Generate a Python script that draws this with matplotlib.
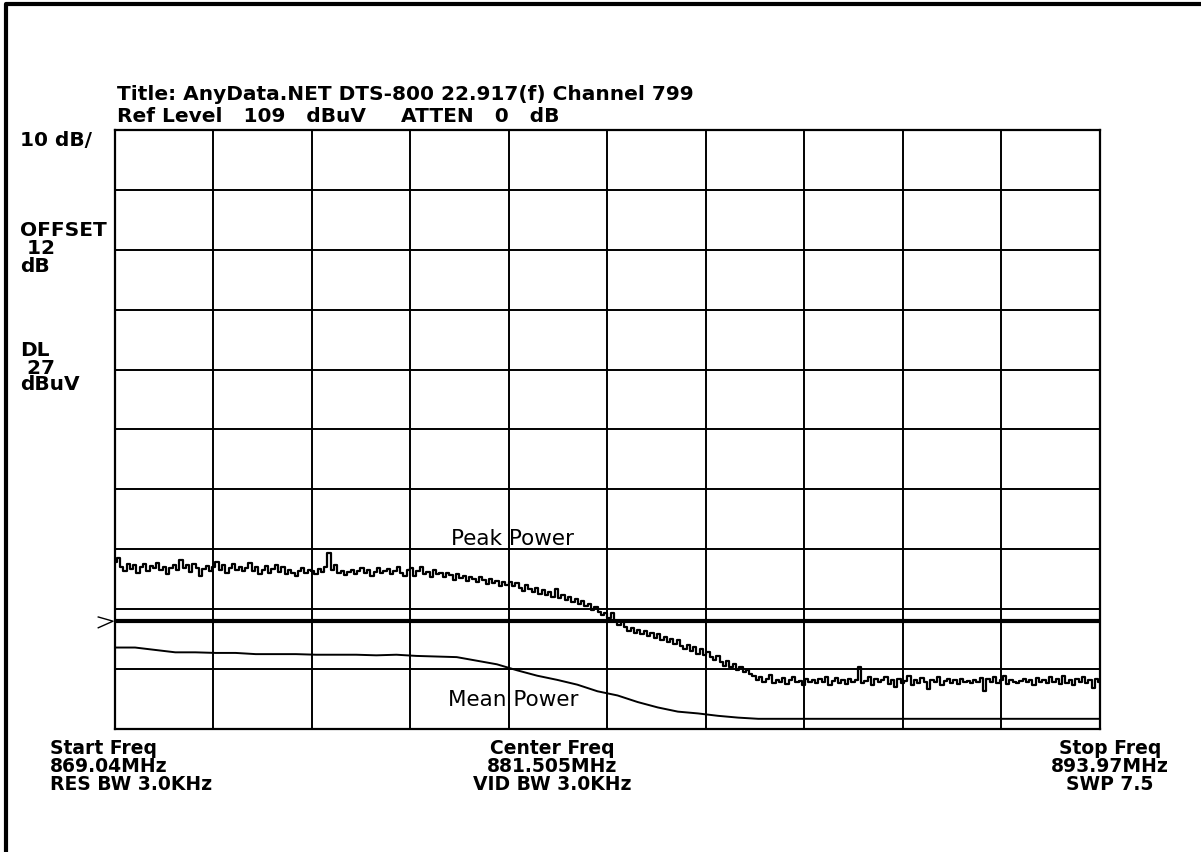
import numpy as np
from matplotlib import pyplot as plt
from matplotlib.lines import Line2D

# sweep settings
start_freq = 869.04
stop_freq = 893.97
center_freq = 881.505
ref_level = 109
db_per_div = 10
display_line = 27

# peak power trace, dBuV (300 points across the sweep)
peak_db = [
    36.9, 37.6, 36.0, 35.4, 36.5, 35.7, 36.3, 35.1, 36.0, 36.6,
    35.3, 36.2, 35.8, 36.7, 35.5, 36.1, 34.9, 35.9, 36.4, 35.6,
    37.2, 35.8, 36.3, 35.2, 36.5, 35.9, 34.6, 35.7, 36.2, 35.4,
    36.0, 36.8, 35.5, 36.3, 35.0, 35.8, 36.5, 35.6, 36.1, 35.3,
    35.9, 36.7, 35.4, 36.0, 34.8, 35.5, 36.2, 35.1, 35.7, 36.4,
    35.2, 36.1, 34.9, 35.6, 35.0, 34.5, 35.4, 35.8, 35.1, 35.6,
    35.3, 34.8, 35.7, 35.2, 36.0, 38.4, 35.5, 36.3, 35.0, 35.4,
    34.7, 35.2, 35.6, 34.9, 35.3, 35.8, 35.1, 35.5, 34.6, 35.2,
    35.9, 35.0, 35.4, 35.7, 34.8, 35.3, 36.0, 35.1, 34.5, 35.6,
    35.8, 34.6, 35.3, 36.1, 34.9, 35.2, 34.4, 35.6, 34.8, 35.0,
    34.3, 35.1, 34.7, 33.9, 34.9, 34.2, 34.6, 33.7, 34.4, 34.0,
    33.5, 34.3, 33.8, 33.2, 34.0, 33.4, 33.7, 32.9, 33.5, 33.0, 33.6,
    32.8, 33.4, 32.5, 32.1, 33.0, 32.3, 31.9, 32.6, 31.6, 32.2,
    31.4, 31.9, 31.1, 32.4, 30.9, 31.3, 30.6, 31.0, 30.2, 30.7,
    29.8, 30.3, 29.5, 29.9, 28.9, 29.3, 28.6, 28.0, 28.4,
    27.6, 28.3, 27.0, 26.4, 27.1, 26.0, 25.4, 25.9, 25.0, 25.6,
    24.8, 25.3, 24.5, 25.0, 24.2, 24.8, 23.9, 24.4, 23.6, 24.1,
    23.2, 23.8, 22.9, 22.3, 23.0, 22.1, 22.7, 21.5, 22.4, 21.3,
    21.9, 21.0, 20.5, 21.2, 20.2, 19.6, 20.4, 19.3, 19.9, 18.9,
    19.3, 18.5, 18.9, 18.2,
    17.8, 17.1, 17.6, 16.8, 17.3, 18.0, 16.7, 17.2, 16.9, 17.5,
    16.5, 17.1, 17.7, 16.8, 17.0, 16.4, 17.4, 16.9, 17.2, 16.6,
    17.3, 16.8, 17.6, 16.3, 17.0, 17.5, 16.7, 17.1, 16.5, 17.4,
    16.9, 17.2, 19.3, 16.6, 17.0, 17.6, 16.4, 17.3, 16.8, 17.1,
    17.7, 16.5, 17.2, 16.0, 17.4, 16.7, 17.0, 17.8, 16.3, 17.1,
    16.6, 17.5, 16.9, 15.6, 17.2, 16.8, 17.6, 16.4, 17.0, 17.3,
    16.7, 17.1, 16.5, 17.4, 16.9, 17.0, 16.6, 17.2, 16.8, 17.5,
    15.4, 17.3, 16.9, 17.6, 16.7, 17.1, 17.8, 16.5, 17.2, 16.9,
    16.6, 17.0, 17.4, 16.8, 17.1, 16.4, 17.5, 16.9, 17.2, 16.6,
    17.7, 16.8, 17.3, 16.5, 17.9, 16.7, 17.1, 16.3, 17.4, 16.9,
    17.6, 16.6, 17.2, 15.9, 17.3, 16.8,
]

# mean power trace, dBuV (50 points)
mean_db = [
    22.6, 22.6, 22.2, 21.8, 21.8, 21.7, 21.7, 21.5, 21.5, 21.5,
    21.4, 21.4, 21.4, 21.3, 21.4, 21.2, 21.1, 21.0, 20.4, 19.8,
    18.8, 17.9, 17.2, 16.4, 15.3, 14.6, 13.5, 12.6, 11.9, 11.6,
    11.2, 10.9, 10.7, 10.7, 10.7, 10.7, 10.7, 10.7, 10.7, 10.7,
    10.7, 10.7, 10.7, 10.7, 10.7, 10.7, 10.7, 10.7, 10.7, 10.7,
]

title_lines = [
    "Title: AnyData.NET DTS-800 22.917(f) Channel 799",
    "Ref Level   109   dBuV     ATTEN   0   dB",
]
left_labels = [("10 dB/", 140), ("OFFSET", 231), (" 12", 248), ("dB", 266),
               ("DL", 351), (" 27", 368), ("dBuV", 385)]
bottom_cols = [
    (["Start Freq", "869.04MHz", "RES BW 3.0KHz"], 50, "left"),
    (["Center Freq", "881.505MHz", "VID BW 3.0KHz"], 552, "center"),
    (["Stop Freq", "893.97MHz", "SWP 7.5"], 1110, "center"),
]
label_freq = 879.11

W, H = 1201, 852
fig = plt.figure(figsize=(W / 100, H / 100), dpi=100)
ax = fig.add_axes([115 / W, (H - 729) / H, 985 / W, 599 / H])

bottom_db = ref_level - 10 * db_per_div
ax.set_xlim(start_freq, stop_freq)
ax.set_ylim(bottom_db, ref_level)
ax.set_xticks(np.linspace(start_freq, stop_freq, 11))
ax.set_yticks(np.arange(bottom_db, ref_level + 1, db_per_div))
ax.grid(True, color="black", lw=1.4)
ax.tick_params(length=0, labelbottom=False, labelleft=False)
for s in ax.spines.values():
    s.set_linewidth(1.6)

# display line and its marker
ax.axhline(display_line, color="black", lw=3)
ax.plot([-0.017, -0.002, -0.017], [display_line + 0.7, display_line, display_line - 1.1],
        transform=ax.get_yaxis_transform(), color="black", lw=1, clip_on=False)

f_peak = np.linspace(start_freq, stop_freq, len(peak_db))
f_mean = np.linspace(start_freq, stop_freq, len(mean_db))
ax.plot(f_peak, peak_db, color="black", lw=1.6, drawstyle="steps-mid")
ax.plot(f_mean, mean_db, color="black", lw=1.4)

ax.text(label_freq, 40.7, "Peak Power", ha="center", va="center", fontsize=15.5,
        family="DejaVu Sans")
ax.text(label_freq, 13.9, "Mean Power", ha="center", va="center", fontsize=15.5,
        family="DejaVu Sans")

big = dict(family="DejaVu Sans", fontweight="bold", fontsize=14.5)
small = dict(family="DejaVu Sans", fontweight="bold", fontsize=13.5)
for i, line in enumerate(title_lines):
    fig.text(117 / W, 1 - (95 + 21 * i) / H, line, va="center", ha="left", **big)
for txt, y in left_labels:
    fig.text(20 / W, 1 - y / H, txt, va="center", ha="left", **big)
for lines, x, ha in bottom_cols:
    for i, line in enumerate(lines):
        fig.text(x / W, 1 - (748 + 18 * i) / H, line, va="center", ha=ha, **small)

# screen border (top and left)
fig.add_artist(Line2D([6 / W, 6 / W, 1], [0, 1 - 4 / H, 1 - 4 / H],
                      transform=fig.transFigure, color="black", lw=3))

fig.savefig("out.png", dpi=100)
